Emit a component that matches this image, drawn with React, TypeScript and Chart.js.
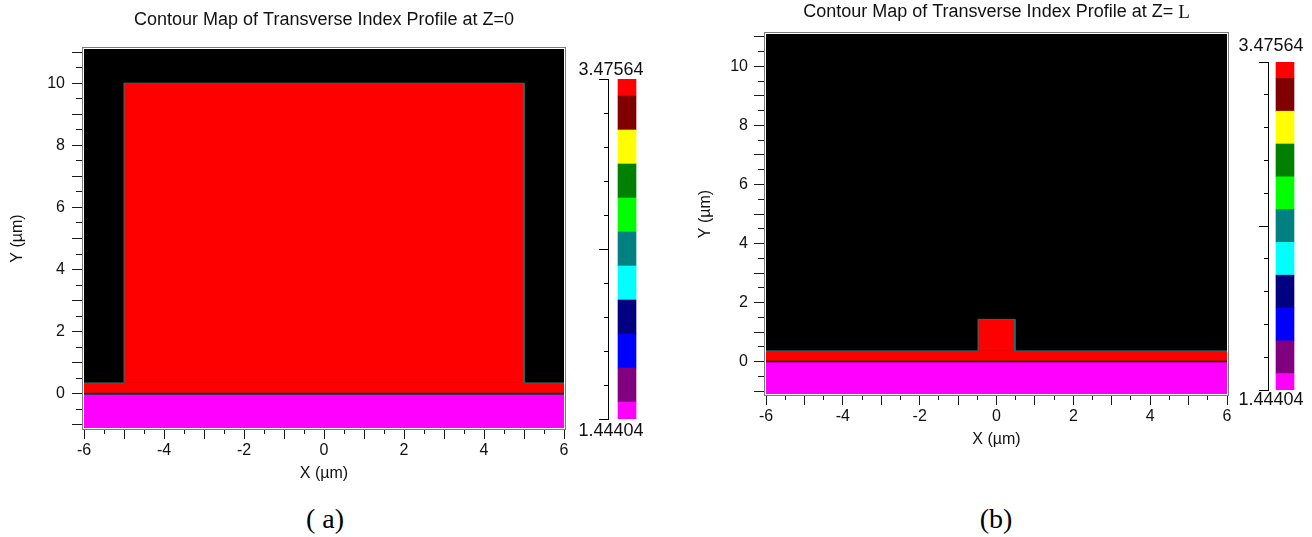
import React, { useEffect, useRef } from 'react';
import { Chart, registerables } from 'chart.js';

Chart.register(...registerables);

const FONT = "'Liberation Sans', Arial, Helvetica, sans-serif";
const SERIF = "'Liberation Serif', 'Times New Roman', serif";
const TEXT = '#111111';

// ---- colour scale (refractive index levels) ----
const indexLevels = [1.44404, 1.6472, 1.85036, 2.05352, 2.25668, 2.45984, 2.663, 2.86616, 3.06932, 3.27248, 3.47564];
const levelColors = ['#ff00ff', '#800080', '#0000ff', '#000080', '#00ffff', '#008080', '#00ff00', '#008000', '#ffff00', '#800000', '#ff0000'];
const belowRangeColor = '#000000';

// ---- axes ----
const xRange = [-6, 6];
const yRange = [-1.1, 11.1];
const xTickLabels = [-6, -4, -2, 0, 2, 4, 6];
const yTickLabels = [0, 2, 4, 6, 8, 10];
const tickStep = 0.5;

// ---- profile (a): Z = 0 ; regions are air, substrate, slab, core ----
const regionX0A = [-6, -6, -6, -5];
const regionX1A = [6, 6, 6, 5];
const regionY0A = [-1.1, -1.1, 0, 0.35];
const regionY1A = [11.1, 0, 0.35, 10];
const regionIndexA = [1.0, 1.44404, 3.47564, 3.47564];
const contourXA = [-6, -5, -5, 5, 5, 6];
const contourYA = [0.35, 0.35, 10, 10, 0.35, 0.35];

// ---- profile (b): Z = L ----
const regionX0B = [-6, -6, -6, -0.48];
const regionX1B = [6, 6, 6, 0.48];
const regionY0B = [-1.1, -1.1, 0, 0.36];
const regionY1B = [11.1, 0, 0.36, 1.43];
const regionIndexB = [1.0, 1.44404, 3.47564, 3.47564];
const contourXB = [-6, -0.48, -0.48, 0.48, 0.48, 6];
const contourYB = [0.36, 0.36, 1.43, 1.43, 0.36, 0.36];

// substrate / slab interface
const interfaceX = [-6, 6];
const interfaceY = [0, 0];

function colorForIndex(n: number): string {
  const step = indexLevels[1] - indexLevels[0];
  if (n < indexLevels[0] - step / 2) return belowRangeColor;
  let k = Math.round((n - indexLevels[0]) / step);
  k = Math.max(0, Math.min(levelColors.length - 1, k));
  return levelColors[k];
}

const near = (a: number, b: number) => Math.abs(a - b) < 1e-6;
const isInt = (v: number) => near(v, Math.round(v));

type ProfileSpec = {
  title: string;
  titleTail?: string;
  titleY: number;
  padTop: number;
  padRight: number;
  yAxisW: number;
  xAxisH: number;
  xTitlePad: number;
  yTitlePad: number;
  yLabelPad: number;
  xLabelPad: number;
  x0: number[]; x1: number[]; y0: number[]; y1: number[]; n: number[];
  cx: number[]; cy: number[];
  interfaceColor: string;
  interfaceWidth: number;
};

function makeProfileChart(canvas: HTMLCanvasElement, s: ProfileSpec) {
  const regionPlugin = {
    id: 'regions',
    beforeDatasetsDraw(chart: any) {
      const { ctx, chartArea: a, scales } = chart;
      const x = scales.x, y = scales.y;
      ctx.save();
      ctx.beginPath();
      ctx.rect(a.left, a.top, a.right - a.left, a.bottom - a.top);
      ctx.clip();
      for (let i = 0; i < s.x0.length; i++) {
        const px0 = x.getPixelForValue(s.x0[i]);
        const px1 = x.getPixelForValue(s.x1[i]);
        const py0 = y.getPixelForValue(s.y0[i]);
        const py1 = y.getPixelForValue(s.y1[i]);
        ctx.fillStyle = colorForIndex(s.n[i]);
        ctx.fillRect(Math.min(px0, px1), Math.min(py0, py1), Math.abs(px1 - px0), Math.abs(py1 - py0));
      }
      ctx.restore();
    },
  };
  const framePlugin = {
    id: 'frame',
    afterDraw(chart: any) {
      const { ctx, chartArea: a } = chart;
      ctx.save();
      ctx.lineWidth = 1;
      ctx.strokeStyle = '#7a7a7a';
      ctx.strokeRect(a.left - 1.5, a.top - 1.5, a.right - a.left + 3, a.bottom - a.top + 3);
      ctx.strokeStyle = '#ffffff';
      ctx.strokeRect(a.left - 0.5, a.top - 0.5, a.right - a.left + 1, a.bottom - a.top + 1);
      // title
      ctx.fillStyle = TEXT;
      ctx.textBaseline = 'middle';
      const sansFont = `18px ${FONT}`;
      const serifFont = `19px ${SERIF}`;
      ctx.font = sansFont;
      const w1 = ctx.measureText(s.title).width;
      ctx.font = serifFont;
      const w2 = s.titleTail ? ctx.measureText(s.titleTail).width : 0;
      const x0 = (a.left + a.right) / 2 - (w1 + w2) / 2;
      ctx.textAlign = 'left';
      ctx.font = sansFont;
      ctx.fillText(s.title, x0, s.titleY);
      if (s.titleTail) {
        ctx.font = serifFont;
        ctx.fillText(s.titleTail, x0 + w1, s.titleY + 1);
      }
      ctx.restore();
    },
  };

  return new Chart(canvas, {
    type: 'scatter',
    data: {
      datasets: [
        {
          data: s.cx.map((v, i) => ({ x: v, y: s.cy[i] })),
          showLine: true,
          borderColor: '#1a7575',
          borderWidth: 1,
          pointRadius: 0,
          fill: false,
        },
        {
          data: interfaceX.map((v, i) => ({ x: v, y: interfaceY[i] })),
          showLine: true,
          borderColor: s.interfaceColor,
          borderWidth: s.interfaceWidth,
          pointRadius: 0,
          fill: false,
        },
      ],
    },
    options: {
      animation: false,
      responsive: false,
      events: [],
      layout: { padding: { top: s.padTop, right: s.padRight, left: 0, bottom: 0 } },
      plugins: { legend: { display: false }, tooltip: { enabled: false }, title: { display: false } },
      scales: {
        x: {
          type: 'linear',
          min: xRange[0],
          max: xRange[1],
          afterFit: (sc: any) => { sc.height = s.xAxisH; },
          ticks: {
            stepSize: tickStep,
            autoSkip: false,
            maxRotation: 0,
            includeBounds: false,
            padding: s.xLabelPad,
            color: TEXT,
            font: { family: FONT, size: 16 },
            callback: (v: any) => (xTickLabels.some((t) => near(t, Number(v))) ? String(Math.round(Number(v))) : ''),
          },
          grid: {
            display: true,
            drawOnChartArea: false,
            drawTicks: true,
            tickLength: 11,
            tickColor: '#1a1a1a',
            tickWidth: 1,
            tickBorderDash: (c: any) => (c.tick && !isInt(c.tick.value) ? [6, 100] : []),
          },
          border: { display: false },
          title: {
            display: true,
            text: 'X (µm)',
            color: TEXT,
            font: { family: FONT, size: 16 },
            padding: { top: 0, bottom: s.xTitlePad },
          },
        },
        y: {
          type: 'linear',
          min: yRange[0],
          max: yRange[1],
          afterFit: (sc: any) => { sc.width = s.yAxisW; },
          ticks: {
            stepSize: tickStep,
            autoSkip: false,
            includeBounds: false,
            padding: s.yLabelPad,
            color: TEXT,
            font: { family: FONT, size: 16 },
            callback: (v: any) => (yTickLabels.some((t) => near(t, Number(v))) ? String(Math.round(Number(v))) : ''),
          },
          grid: {
            display: true,
            drawOnChartArea: false,
            drawTicks: true,
            tickLength: 12,
            tickColor: '#1a1a1a',
            tickWidth: 1,
            tickBorderDash: (c: any) => (c.tick && !isInt(c.tick.value) ? [0, 4, 8, 100] : []),
          },
          border: { display: false },
          title: {
            display: true,
            text: 'Y (µm)',
            color: TEXT,
            font: { family: FONT, size: 16 },
            padding: { top: s.yTitlePad, bottom: 0 },
          },
        },
      },
    },
    plugins: [regionPlugin, framePlugin],
  } as any);
}

type BarSpec = { padTop: number; padRight: number; padBottom: number; yAxisW: number; topOff: number; botOff: number };

function makeColorbar(canvas: HTMLCanvasElement, s: BarSpec) {
  const half = (indexLevels[1] - indexLevels[0]) / 2;
  const lo = indexLevels[0];
  const hi = indexLevels[indexLevels.length - 1];
  const labelPlugin = {
    id: 'cbLabels',
    afterDraw(chart: any) {
      const { ctx, chartArea: a, scales } = chart;
      const y = scales.y;
      ctx.save();
      ctx.fillStyle = TEXT;
      ctx.font = `18px ${FONT}`;
      ctx.textAlign = 'center';
      ctx.textBaseline = 'middle';
      ctx.fillText(hi.toFixed(5), a.left + 3, y.getPixelForValue(hi) - s.topOff);
      ctx.fillText(lo.toFixed(5), a.left + 3, y.getPixelForValue(lo) + s.botOff);
      ctx.restore();
    },
  };
  const mid = Math.floor(indexLevels.length / 2);
  return new Chart(canvas, {
    type: 'bar',
    data: {
      labels: [''],
      datasets: indexLevels.map((v, k) => ({
        data: [[Math.max(lo, v - half), Math.min(hi, v + half)]],
        backgroundColor: levelColors[k],
        borderWidth: 0,
        barThickness: 18,
        grouped: false,
      })),
    },
    options: {
      animation: false,
      responsive: false,
      events: [],
      layout: { padding: { top: s.padTop, right: s.padRight, bottom: s.padBottom, left: 0 } },
      plugins: { legend: { display: false }, tooltip: { enabled: false }, title: { display: false } },
      scales: {
        x: { display: false },
        y: {
          type: 'linear',
          min: lo,
          max: hi,
          afterFit: (sc: any) => { sc.width = s.yAxisW; },
          afterBuildTicks: (sc: any) => { sc.ticks = indexLevels.map((v) => ({ value: v })); },
          ticks: { display: false },
          grid: {
            display: true,
            drawOnChartArea: false,
            drawTicks: true,
            tickLength: 9,
            tickColor: '#000',
            tickWidth: 1,
            tickBorderDash: (c: any) =>
              c.index === 0 || c.index === mid || c.index === indexLevels.length - 1 ? [] : [0, 5, 4, 100],
          },
          border: { display: true, color: '#000', width: 1 },
        },
      },
    },
    plugins: [labelPlugin],
  } as any);
}

export default function App() {
  const aRef = useRef<HTMLCanvasElement>(null);
  const bRef = useRef<HTMLCanvasElement>(null);
  const cbaRef = useRef<HTMLCanvasElement>(null);
  const cbbRef = useRef<HTMLCanvasElement>(null);

  useEffect(() => {
    const charts: Chart[] = [];
    charts.push(
      makeProfileChart(aRef.current!, {
        title: 'Contour Map of Transverse Index Profile at Z=0',
        titleY: 20,
        padTop: 49, padRight: 36,
        yAxisW: 84, xAxisH: 72,
        xTitlePad: 16.4, yTitlePad: 8.4,
        yLabelPad: 7, xLabelPad: 2,
        x0: regionX0A, x1: regionX1A, y0: regionY0A, y1: regionY1A, n: regionIndexA,
        cx: contourXA, cy: contourYA,
        interfaceColor: '#0c3434', interfaceWidth: 2,
      })
    );
    charts.push(
      makeProfileChart(bRef.current!, {
        title: 'Contour Map of Transverse Index Profile at Z= ',
        titleTail: 'L',
        titleY: 12,
        padTop: 34, padRight: 85,
        yAxisW: 86, xAxisH: 66,
        xTitlePad: 10.4, yTitlePad: 16.4,
        yLabelPad: 6, xLabelPad: 2,
        x0: regionX0B, x1: regionX1B, y0: regionY0B, y1: regionY1B, n: regionIndexB,
        cx: contourXB, cy: contourYB,
        interfaceColor: '#000000', interfaceWidth: 1.5,
      })
    );
    charts.push(makeColorbar(cbaRef.current!, { padTop: 39, padRight: 14, padBottom: 31, yAxisW: 38, topOff: 9, botOff: 12 }));
    charts.push(makeColorbar(cbbRef.current!, { padTop: 37, padRight: 10, padBottom: 30, yAxisW: 43, topOff: 16, botOff: 10 }));
    return () => charts.forEach((c) => c.destroy());
  }, []);

  const abs = (left: number, top: number, w: number, h: number): React.CSSProperties => ({
    position: 'absolute', left, top, width: w, height: h, display: 'block',
  });

  const caption: React.CSSProperties = {
    position: 'absolute', width: 200, top: 501, textAlign: 'center', fontFamily: SERIF, fontSize: 28, lineHeight: '36px', color: '#000',
  };

  return (
    <div style={{ position: 'absolute', left: 0, top: 0, width: 1312, height: 537, background: '#fff', overflow: 'hidden' }}>
      <canvas ref={aRef} width={600} height={500} style={abs(0, 0, 600, 500)} />
      <canvas ref={bRef} width={632} height={460} style={abs(680, 0, 632, 460)} />
      <canvas ref={cbaRef} width={90} height={410} style={abs(570, 40, 90, 410)} />
      <canvas ref={cbbRef} width={87} height={395} style={abs(1225, 25, 87, 395)} />
      <div style={{ ...caption, left: 225 }}>( a)</div>
      <div style={{ ...caption, left: 896 }}>(b)</div>
    </div>
  );
}
